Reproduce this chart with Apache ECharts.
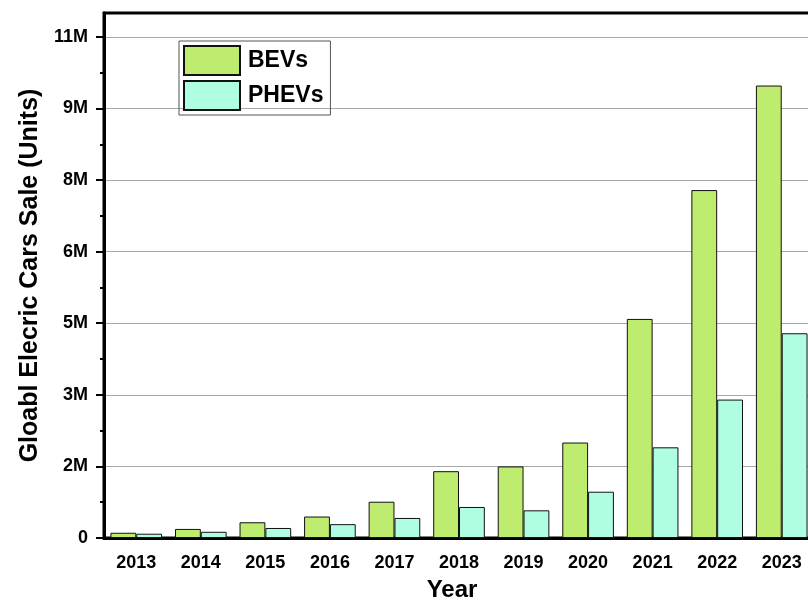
<!DOCTYPE html>
<html>
<head>
<meta charset="utf-8">
<script src="https://cdn.jsdelivr.net/npm/echarts@6/dist/echarts.min.js"></script>
<style>
  html, body { margin: 0; padding: 0; background: #fff; overflow: hidden; width: 808px; height: 605px; }
  #chart { position: absolute; left: 0; top: 0; width: 822px; height: 605px; }
</style>
</head>
<body>
<div id="chart"></div>
<script>
const years = ['2013', '2014', '2015', '2016', '2017', '2018', '2019', '2020', '2021', '2022', '2023'];
const bevs = [0.11, 0.19, 0.33, 0.45, 0.76, 1.40, 1.50, 2.00, 4.59, 7.29, 9.48].map(v => v * 1e6);
const phevs = [0.09, 0.13, 0.21, 0.29, 0.42, 0.65, 0.58, 0.97, 1.90, 2.90, 4.29].map(v => v * 1e6);
const yTicks = [0, 1.5e6, 3e6, 4.5e6, 6e6, 7.5e6, 9e6, 10.5e6];

const font = 'Arial, "Liberation Sans", sans-serif';
let chart = echarts.init(document.getElementById('chart'));
chart.setOption({
  animation: false,
  grid: {
    left: 104, right: 8, top: 13, bottom: 67,
    outerBoundsMode: 'none',
    show: true, borderColor: '#000', borderWidth: 3, backgroundColor: 'transparent'
  },
  legend: {
    left: 179, top: 41, orient: 'vertical',
    padding: [4, 7, 4, 4], itemGap: 4,
    itemWidth: 56, itemHeight: 29,
    icon: 'rect',
    borderColor: '#555', borderWidth: 1,
    textStyle: { fontFamily: font, fontWeight: 'bold', fontSize: 23, color: '#000', padding: [0, 0, 0, 3] },
    data: ['BEVs', 'PHEVs']
  },
  xAxis: [{
    type: 'category',
    data: years,
    name: 'Year', nameLocation: 'middle', nameGap: 40,
    nameTextStyle: { fontFamily: font, fontWeight: 'bold', fontSize: 24, color: '#000', padding: [0, 14, 0, 0] },
    axisLine: { lineStyle: { color: '#000', width: 3 } },
    axisTick: { alignWithLabel: true, length: 8, lineStyle: { color: '#000', width: 3 } },
    axisLabel: { fontFamily: font, fontWeight: 'bold', fontSize: 18, color: '#000', margin: 16 }
  }, {
    type: 'category',
    data: years,
    position: 'bottom',
    axisLine: { show: false },
    axisTick: { length: 4, lineStyle: { color: '#000', width: 3 } },
    axisLabel: { show: false }
  }],
  yAxis: {
    type: 'value', min: 0, max: 11e6, interval: 1.5e6,
    name: 'Gloabl Elecric Cars Sale (Units)', nameLocation: 'middle', nameGap: 58,
    nameTextStyle: { fontFamily: font, fontWeight: 'bold', fontSize: 25, color: '#000' },
    axisLine: { show: true, lineStyle: { color: '#000', width: 3 } },
    axisTick: { show: true, length: 8, customValues: yTicks, lineStyle: { color: '#000', width: 2 } },
    minorTick: { show: true, splitNumber: 2, length: 4, lineStyle: { color: '#000', width: 2 } },
    splitLine: { lineStyle: { color: '#a8a8a8', width: 1 } },
    axisLabel: {
      fontFamily: font, fontWeight: 'bold', fontSize: 18, color: '#000', margin: 16,
      showMaxLabel: false,
      formatter: v => v === 0 ? '0' : Math.round(v / 1e6) + 'M'
    }
  },
  series: [{
    name: 'BEVs', type: 'bar', data: bevs,
    barWidth: '40%', barGap: '0%',
    itemStyle: { color: '#bdec6e', borderColor: '#111', borderWidth: 1 }
  }, {
    name: 'PHEVs', type: 'bar', data: phevs,
    barWidth: '40%', barGap: '0%',
    itemStyle: { color: '#affee2', borderColor: '#111', borderWidth: 1 }
  }]
});
</script>
</body>
</html>
